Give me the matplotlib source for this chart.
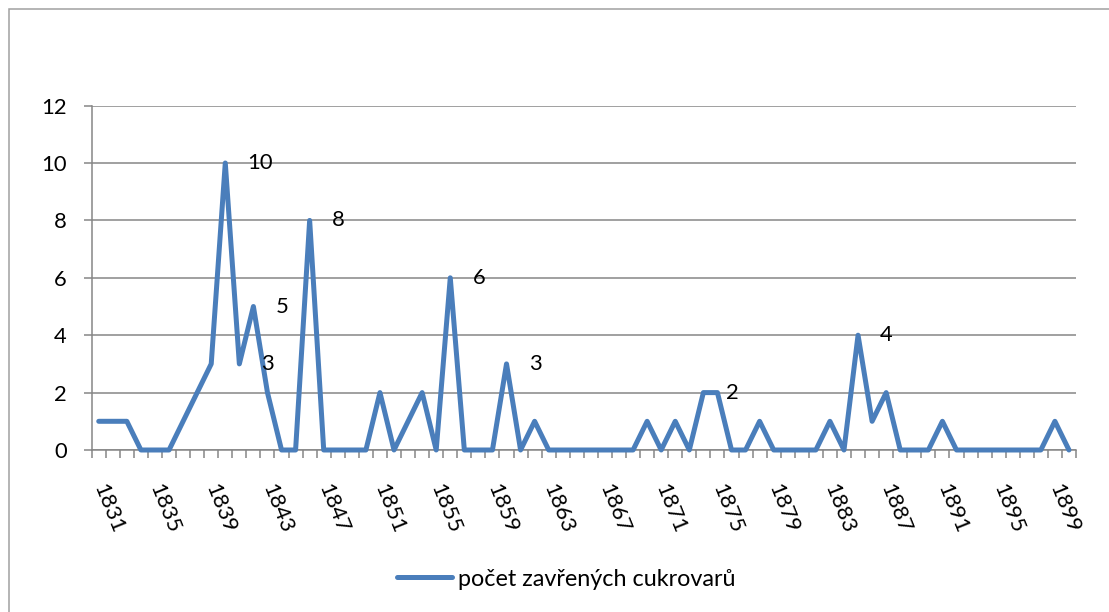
import matplotlib
matplotlib.use('Agg')
import matplotlib.pyplot as plt
from matplotlib.patches import Rectangle

plt.rcParams['font.family'] = ['Lato', 'DejaVu Sans']

# closed sugar factories per year, 1831-1900
years = list(range(1831, 1901))
counts = [
    1, 1, 1, 0, 0, 0, 1, 2, 3, 10,   # 1831-1840
    3, 5, 2, 0, 0, 8, 0, 0, 0, 0,    # 1841-1850
    2, 0, 1, 2, 0, 6, 0, 0, 0, 3,    # 1851-1860
    0, 1, 0, 0, 0, 0, 0, 0, 0, 1,    # 1861-1870
    0, 1, 0, 2, 2, 0, 0, 1, 0, 0,    # 1871-1880
    0, 0, 1, 0, 4, 1, 2, 0, 0, 0,    # 1881-1890
    1, 0, 0, 0, 0, 0, 0, 0, 1, 0,    # 1891-1900
]
labeled_years = [1840, 1841, 1842, 1846, 1856, 1860, 1874, 1885]
series_name = 'počet zavřených cukrovarů'
y_ticks = [0, 2, 4, 6, 8, 10, 12]

W, H = 1109, 612
fig = plt.figure(figsize=(W / 100, H / 100), dpi=100)
ax = fig.add_axes([91.7 / W, 1 - 450 / H, (1076 - 91.7) / W, (450 - 105.6) / H])

blue = '#4a7ebb'
grey = '#868686'
fs = 15.8

xs = list(range(len(years)))
line, = ax.plot(xs, counts, color=blue, lw=3.6, solid_joinstyle='round',
                solid_capstyle='round', label=series_name, clip_on=False, zorder=3)

for yr in labeled_years:
    i = years.index(yr)
    ax.annotate(str(counts[i]), (i, counts[i]), xytext=(16, 0), textcoords='offset points',
                ha='left', va='center', fontsize=fs, color='black', zorder=4)

ax.set_xlim(-0.5, len(years) - 0.5)
ax.set_ylim(0, 12)

# boundaries between categories get the tick marks, labels sit at every 4th year
ax.set_xticks([k - 0.5 for k in range(len(years) + 1)])
ax.set_xticklabels([])
ax.tick_params(axis='x', which='major', direction='out', length=6, width=1.1, color=grey)
lab_idx = list(range(0, len(years), 4))
ax.set_xticks(lab_idx, minor=True)
ax.set_xticklabels([str(years[i]) for i in lab_idx], minor=True, rotation=-68,
                   ha='left', va='center', rotation_mode='anchor', fontsize=fs)
ax.tick_params(axis='x', which='minor', length=0, pad=25)

ax.set_yticks(y_ticks)
ax.set_yticklabels([str(v) for v in y_ticks], fontsize=fs)
ax.tick_params(axis='y', direction='out', length=6, width=1.1, color=grey, pad=12)

ax.grid(axis='y', color=grey, lw=1.1)
ax.set_axisbelow(True)
for side in ('top', 'right'):
    ax.spines[side].set_visible(False)
for side in ('left', 'bottom'):
    ax.spines[side].set_color(grey)
    ax.spines[side].set_linewidth(1.1)

leg = fig.legend(handles=[line], loc='center', bbox_to_anchor=(566 / W, 1 - 579 / H),
                 frameon=False, fontsize=16.8, handlelength=2.35, handletextpad=0.25)

# chart area outline, cut off at right and bottom as in the source
fig.patches.append(Rectangle((8.5 / W, -0.1), 1.2, 1 - 9 / H + 0.1, transform=fig.transFigure,
                             fill=False, edgecolor='#a0a0a0', lw=1.1))

fig.savefig('out.png', dpi=100)
